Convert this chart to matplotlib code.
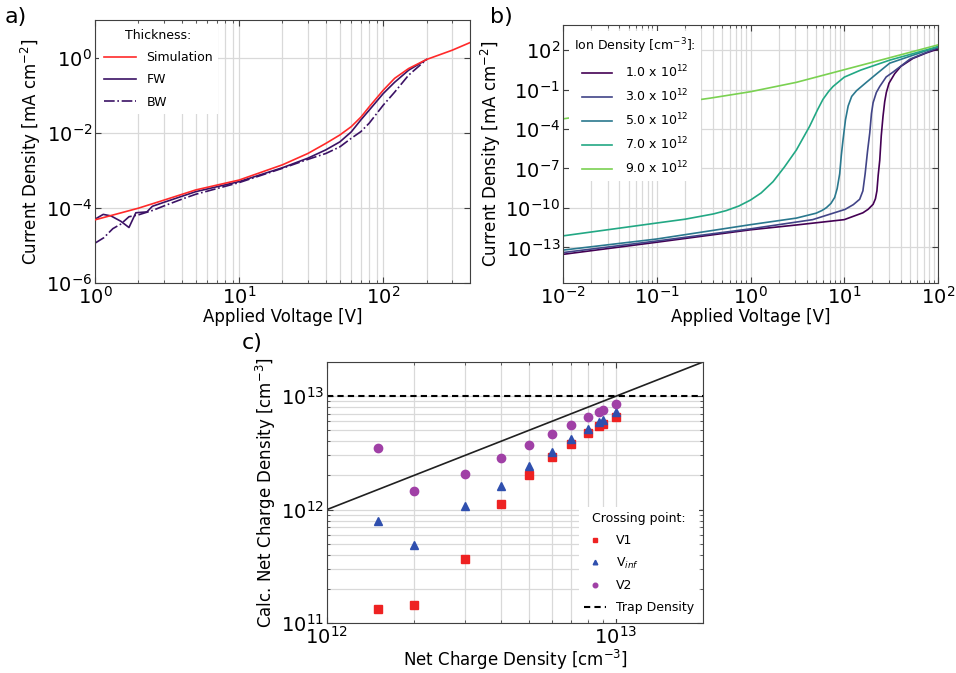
import numpy as np
import matplotlib
matplotlib.use('Agg')
import matplotlib.pyplot as plt
from matplotlib.ticker import LogLocator, NullLocator, LogFormatterSciNotation, NullFormatter

# panel a: measured vs simulated JV
sim_v = [1, 2, 3, 5, 10, 20, 30, 40, 50, 60, 70, 80, 100, 120, 150, 200, 300, 400]
sim_j = [4.8e-5, 9.8e-5, 1.6e-4, 3.0e-4, 5.5e-4, 1.4e-3, 2.8e-3, 5.2e-3, 8.7e-3,
         1.45e-2, 2.6e-2, 4.9e-2, 0.135, 0.28, 0.51, 0.89, 1.56, 2.5]

fw_v = [1, 1.14, 1.29, 1.51, 1.72, 1.92, 2.29, 2.5, 3, 5, 10, 20, 30, 40, 50, 60, 70, 80,
        100, 120, 150, 200]
fw_j = [5.0e-5, 6.7e-5, 6.1e-5, 4.4e-5, 3.0e-5, 7.4e-5, 7.8e-5, 1.1e-4, 1.4e-4, 2.7e-4,
        5.0e-4, 1.17e-3, 2.1e-3, 3.5e-3, 5.7e-3, 1.05e-2, 2.2e-2, 4.0e-2, 0.11, 0.22, 0.46, 0.89]

bw_v = [1, 1.15, 1.33, 1.51, 1.72, 2, 2.5, 3, 4, 5, 10, 20, 30, 40, 50, 60, 70, 80,
        100, 120, 150, 200]
bw_j = [1.15e-5, 1.6e-5, 2.8e-5, 3.7e-5, 5.8e-5, 6.5e-5, 8.5e-5, 1.12e-4, 1.7e-4, 2.3e-4,
        4.7e-4, 1.13e-3, 1.95e-3, 2.8e-3, 4.2e-3, 7.1e-3, 1.07e-2, 1.8e-2, 5.4e-2, 0.12, 0.34, 0.89]

# panel b: simulated JV for several ion densities
ion_labels = ['1.0 x 10$^{12}$', '3.0 x 10$^{12}$', '5.0 x 10$^{12}$',
              '7.0 x 10$^{12}$', '9.0 x 10$^{12}$']
ion_colors = ['#440154', '#414487', '#2a788e', '#22a884', '#7ad151']

v_1 = [0.01, 0.1, 1, 3, 10, 15.8, 18, 20.3, 21.5, 22.3, 23, 23.9, 24.8, 25.9, 27, 28.1,
       30, 34.5, 40, 54, 75, 100]
j_1 = [3.0e-14, 2.5e-13, 2.2e-12, 5.0e-12, 1.3e-11, 4.3e-11, 8.0e-11, 1.9e-10, 5.0e-10,
       2.0e-9, 3.0e-8, 4.2e-7, 3.0e-5, 9.3e-4, 1.2e-2, 6.0e-2, 0.3, 1.6, 5.6, 23, 60, 120]
v_3 = [0.01, 0.1, 1, 4.6, 10.2, 12.5, 14.6, 15.8, 16.7, 17.7, 18.7, 19.5, 20.3, 22, 23.9,
       28, 33.1, 50, 100]
j_3 = [4.1e-14, 3.1e-13, 2.6e-12, 1.3e-11, 7.8e-11, 1.8e-10, 4.6e-10, 2.0e-9, 4.0e-8,
       2.0e-6, 5.0e-5, 1.5e-3, 1.0e-2, 6.0e-2, 0.17, 0.9, 2.1, 20, 150]
v_5 = [0.01, 0.1, 1, 3.08, 5, 5.8, 6.44, 7.2, 7.9, 8.4, 8.94, 9.3, 9.7, 10.3, 11.0, 12,
       13.5, 17.2, 22, 30.5, 100]
j_5 = [6.3e-14, 4.4e-13, 5.4e-12, 1.7e-11, 4.0e-11, 6.5e-11, 1.05e-10, 2.2e-10, 6.3e-10,
       3.0e-9, 4.0e-8, 1.0e-6, 1.5e-5, 5.0e-4, 5.6e-3, 3.0e-2, 8.1e-2, 0.35, 1.5, 10, 180]
v_7 = [0.01, 0.1, 0.2, 0.4, 0.55, 0.75, 1, 1.3, 1.74, 2.3, 3.08, 4.27, 5.2, 5.93, 6.8,
       7.59, 10, 15, 30.5, 100]
j_7 = [7.6e-13, 7.2e-12, 1.4e-11, 3.5e-11, 6.3e-11, 1.4e-10, 4.0e-10, 1.4e-9, 1.0e-8,
       1.3e-7, 2.5e-6, 1.6e-4, 3.0e-3, 1.8e-2, 7.0e-2, 0.17, 0.87, 3.0, 17, 180]
v_9 = [0.01, 0.1, 0.37, 1, 3.08, 10, 30.5, 100]
j_9 = [5.9e-4, 5.9e-3, 2.2e-2, 6.8e-2, 0.35, 3.2, 26, 245]

# panel c: calculated vs set net charge density
net_charge = [1.5e12, 2e12, 3e12, 4e12, 5e12, 6e12, 7e12, 8e12, 8.7e12, 9e12, 1e13]
calc_v1 = [1.32e11, 1.44e11, 3.64e11, 1.11e12, 2.0e12, 2.9e12, 3.82e12, 4.77e12,
           5.46e12, 5.72e12, 6.55e12]
calc_vinf = [8.0e11, 4.86e11, 1.08e12, 1.61e12, 2.42e12, 3.25e12, 4.17e12, 5.1e12,
             5.92e12, 6.2e12, 7.24e12]
calc_v2 = [3.47e12, 1.46e12, 2.06e12, 2.86e12, 3.69e12, 4.61e12, 5.57e12, 6.5e12,
           7.24e12, 7.49e12, 8.51e12]
trap_density = 1e13
ideal_x = [1e12, 2e13]

plt.rcParams['font.family'] = 'DejaVu Sans'
plt.rcParams['xtick.direction'] = 'in'
plt.rcParams['ytick.direction'] = 'in'
plt.rcParams['xtick.top'] = True
plt.rcParams['ytick.right'] = True
plt.rcParams['axes.edgecolor'] = '#404040'
plt.rcParams['xtick.color'] = '#404040'
plt.rcParams['ytick.color'] = '#404040'
plt.rcParams['xtick.labelcolor'] = 'black'
plt.rcParams['ytick.labelcolor'] = 'black'
plt.rcParams['xtick.major.pad'] = 2
plt.rcParams['ytick.major.pad'] = 2

GRID = '#d9d9d9'
TICKSIZE = 14


def style_axes(ax, ygrid_minor=False):
    ax.tick_params(which='both', labelsize=TICKSIZE)
    ax.tick_params(which='major', length=4, width=0.8)
    ax.tick_params(which='minor', length=2, width=0.6)
    ax.grid(True, which='major', color=GRID, lw=0.9, zorder=0)
    ax.grid(True, which='minor', axis='x', color=GRID, lw=0.9, zorder=0)
    if ygrid_minor:
        ax.grid(True, which='minor', axis='y', color=GRID, lw=0.9, zorder=0)
    ax.set_axisbelow(True)


def legend_style():
    return dict(fontsize=9, title_fontsize=9, frameon=True, edgecolor='none',
                facecolor='white', framealpha=1, fancybox=False)


fig = plt.figure(figsize=(9.56, 6.73), dpi=100)

# ---- a)
ax1 = fig.add_axes([0.0994, 0.5795, 0.3922, 0.3908])
ax1.set_xscale('log')
ax1.set_yscale('log')
ax1.plot(sim_v, sim_j, color='#ff2a2a', lw=1.2, label='Simulation', zorder=3)
ax1.plot(fw_v, fw_j, color='#3b1265', lw=1.2, label='FW', zorder=2)
ax1.plot(bw_v, bw_j, color='#3b1265', lw=1.2, ls='-.', label='BW', zorder=2)
ax1.set_xlim(1, 400)
ax1.set_ylim(1e-6, 1e1)
ax1.set_yticks([1e-6, 1e-4, 1e-2, 1e0])
ax1.yaxis.set_major_formatter(LogFormatterSciNotation())
ax1.yaxis.set_minor_locator(NullLocator())
ax1.xaxis.set_minor_locator(LogLocator(base=10, subs=np.arange(2, 10), numticks=20))
ax1.xaxis.set_minor_formatter(NullFormatter())
style_axes(ax1)
ax1.set_xlabel('Applied Voltage [V]', fontsize=12, labelpad=0)
ax1.set_ylabel('Current Density [mA cm$^{-2}$]', fontsize=12, labelpad=2)
ax1.legend(title='Thickness:', loc='upper left', handlelength=2.6, borderaxespad=0.3,
           labelspacing=0.75, **legend_style())

# ---- b)
ax2 = fig.add_axes([0.5889, 0.5795, 0.3923, 0.3834])
ax2.set_xscale('log')
ax2.set_yscale('log')
for vv, jj, lab, col in zip([v_1, v_3, v_5, v_7, v_9], [j_1, j_3, j_5, j_7, j_9],
                            ion_labels, ion_colors):
    ax2.plot(vv, jj, color=col, lw=1.2, label=lab)
ax2.set_xlim(1e-2, 1e2)
ax2.set_ylim(2e-16, 8e3)
ax2.set_yticks([1e2, 1e-1, 1e-4, 1e-7, 1e-10, 1e-13])
ax2.yaxis.set_major_formatter(LogFormatterSciNotation())
ax2.yaxis.set_minor_locator(NullLocator())
ax2.xaxis.set_minor_locator(LogLocator(base=10, subs=np.arange(2, 10), numticks=20))
ax2.xaxis.set_minor_formatter(NullFormatter())
style_axes(ax2)
ax2.set_xlabel('Applied Voltage [V]', fontsize=12, labelpad=0)
ax2.set_ylabel('Current Density [mA cm$^{-2}$]', fontsize=12, labelpad=2)
ax2.legend(title='Ion Density [cm$^{-3}$]:', loc='upper left', handlelength=2.4,
           handletextpad=1.0, borderaxespad=0.5, labelspacing=0.6, **legend_style())

# ---- c)
ax3 = fig.add_axes([0.342, 0.0743, 0.3934, 0.3878])
ax3.set_xscale('log')
ax3.set_yscale('log')
ax3.plot(ideal_x, ideal_x, color='#202020', lw=1.2, zorder=2)
ax3.axhline(trap_density, color='black', lw=1.5, ls='--', dashes=(3, 2),
            label='Trap Density', zorder=2)
ax3.plot(net_charge, calc_v1, 's', color='#ee2222', ms=6, label='V1', zorder=3)
ax3.plot(net_charge, calc_vinf, '^', color='#2f4fae', ms=6, label='V$_{inf}$', zorder=3)
ax3.plot(net_charge, calc_v2, 'o', color='#a040a6', ms=6, label='V2', zorder=3)
ax3.set_xlim(1e12, 2e13)
ax3.set_ylim(1e11, 2e13)
ax3.xaxis.set_minor_locator(LogLocator(base=10, subs=np.arange(2, 10), numticks=20))
ax3.yaxis.set_minor_locator(LogLocator(base=10, subs=np.arange(2, 10), numticks=20))
ax3.xaxis.set_minor_formatter(NullFormatter())
ax3.yaxis.set_minor_formatter(NullFormatter())
style_axes(ax3, ygrid_minor=True)
ax3.set_xlabel('Net Charge Density [cm$^{-3}$]', fontsize=12, labelpad=0)
ax3.set_ylabel('Calc. Net Charge Density [cm$^{-3}$]', fontsize=12, labelpad=2)
h, l = ax3.get_legend_handles_labels()
order = [1, 2, 3, 0]
ax3.legend([h[i] for i in order], [l[i] for i in order], title='Crossing point:',
           loc='lower right', markerscale=0.55, handlelength=1.8, borderaxespad=0.3,
           labelspacing=0.7, **legend_style())

fig.text(0.005, 0.99, 'a)', fontsize=16, va='top', ha='left')
fig.text(0.513, 0.99, 'b)', fontsize=16, va='top', ha='left')
fig.text(0.253, 0.505, 'c)', fontsize=16, va='top', ha='left')

fig.savefig('out.png', dpi=100)
